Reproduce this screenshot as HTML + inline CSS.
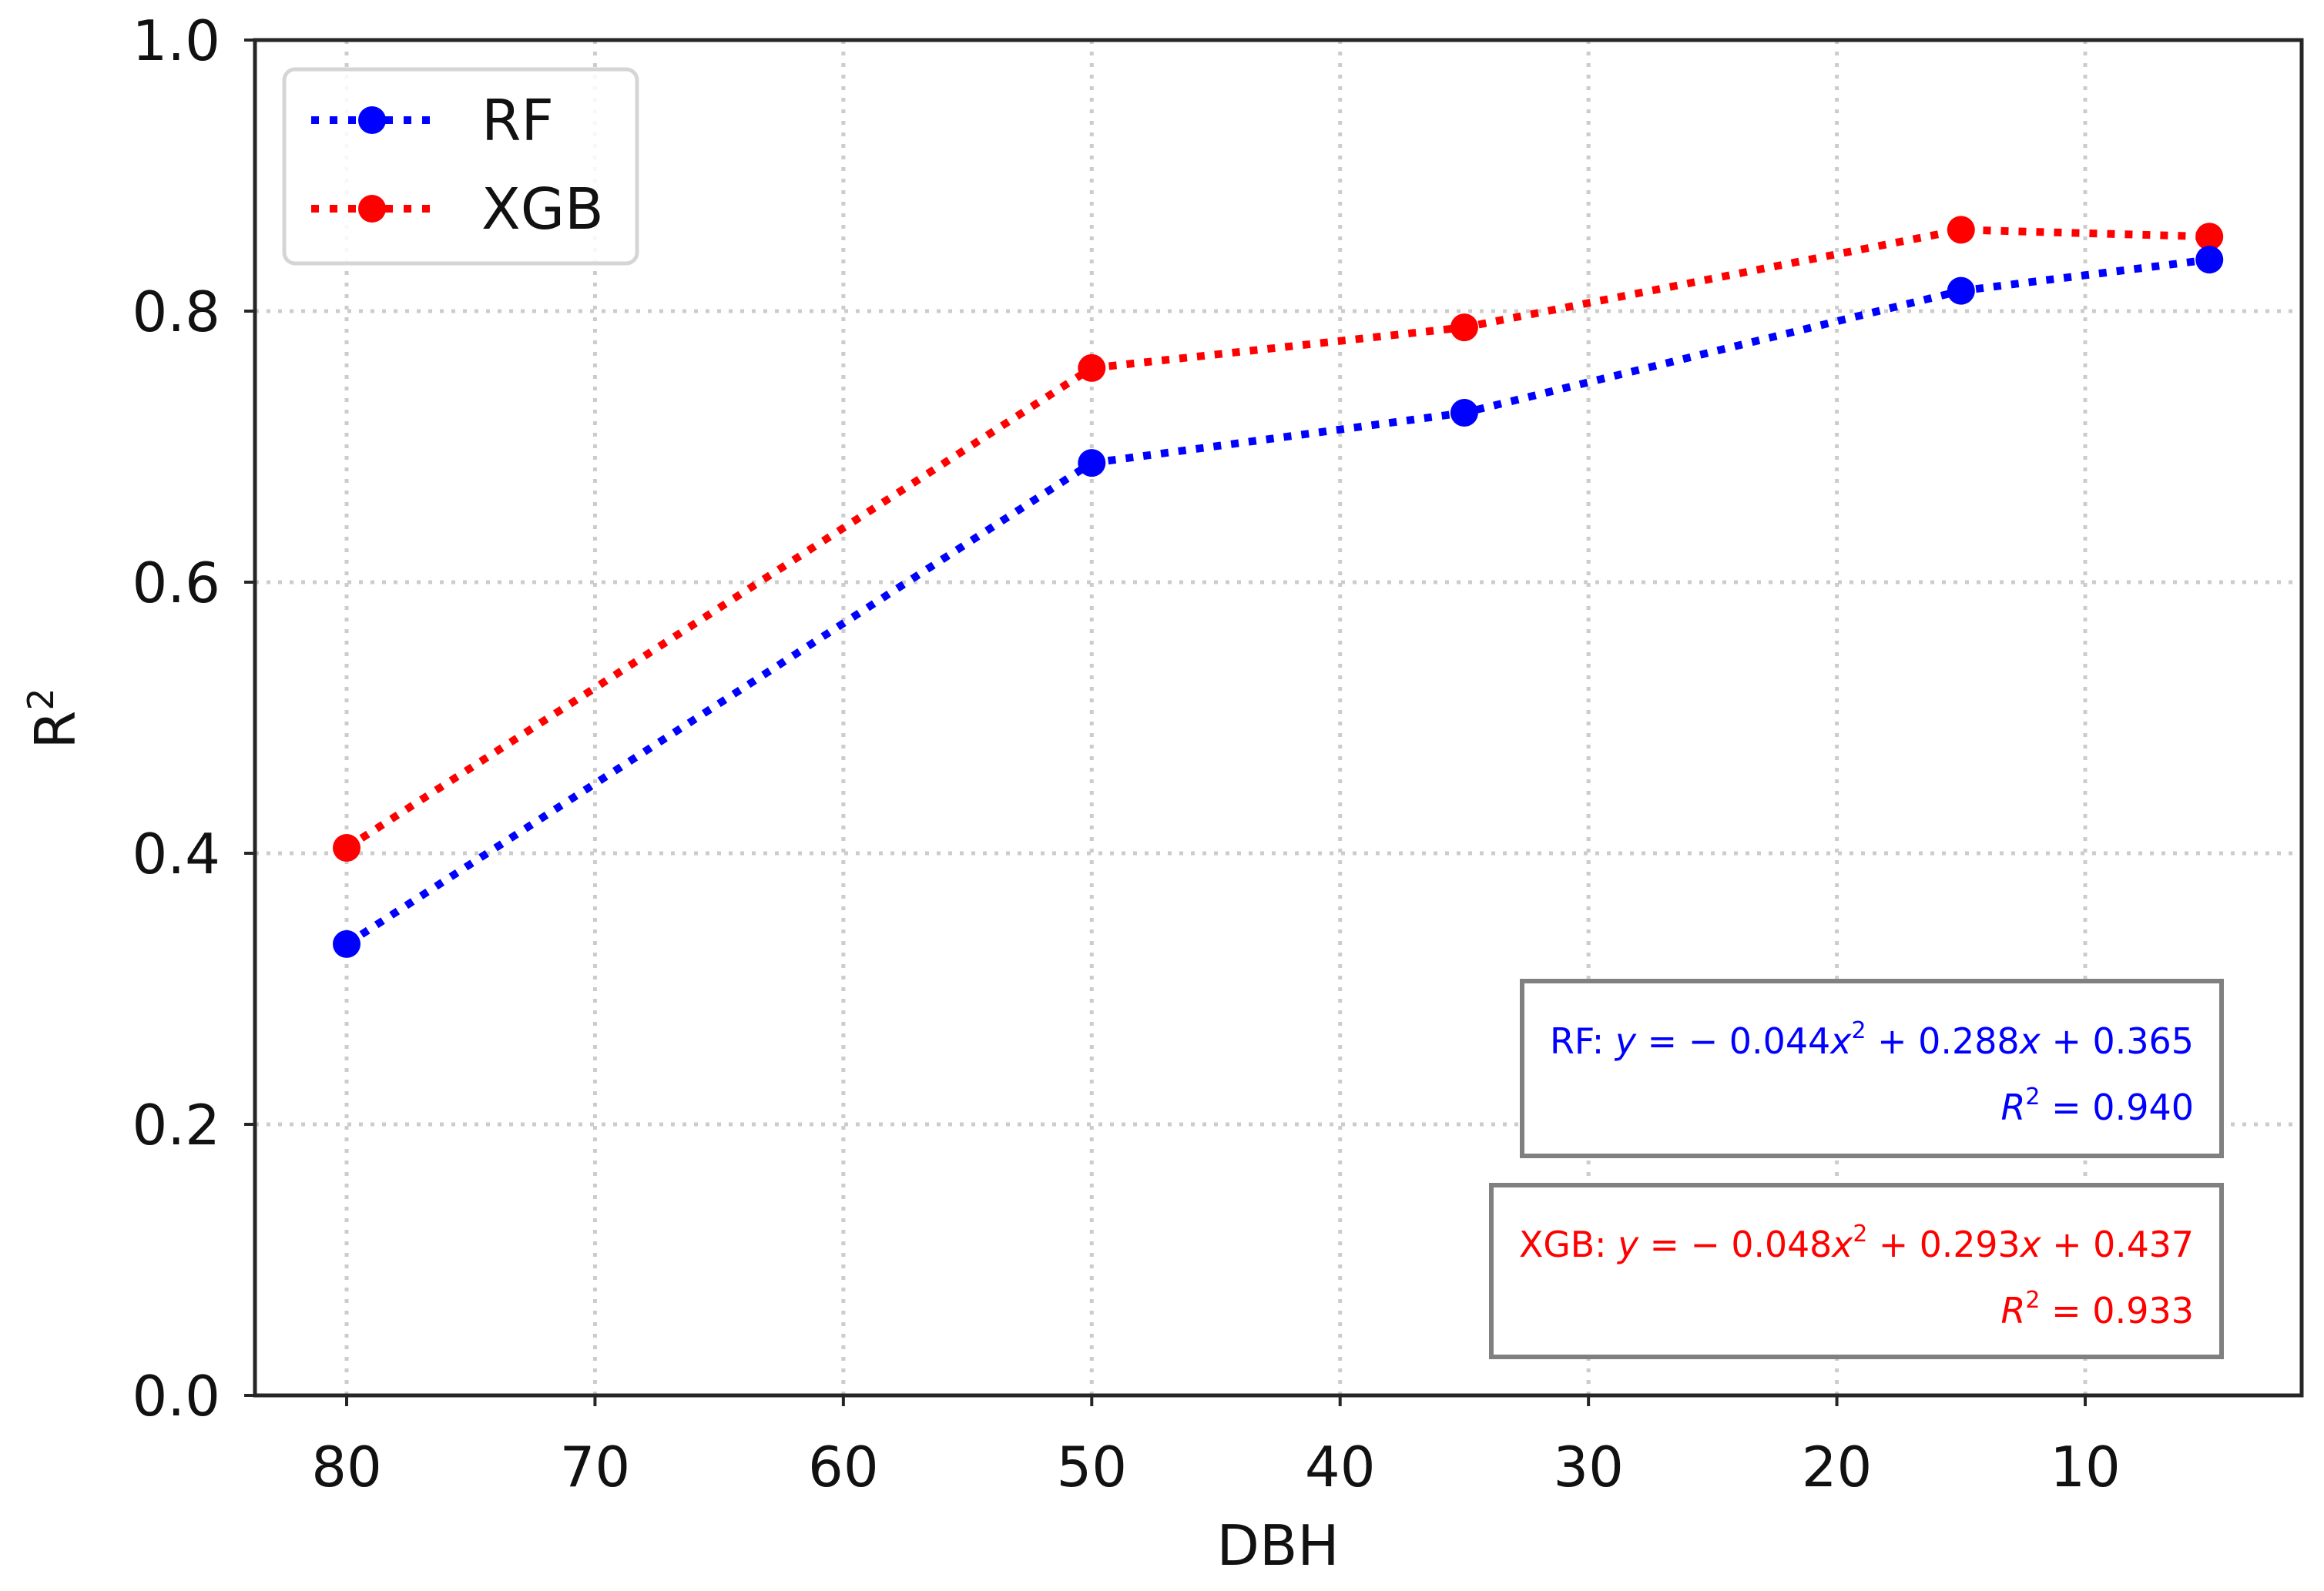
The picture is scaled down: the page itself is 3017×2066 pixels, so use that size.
<!DOCTYPE html>
<html><head><meta charset="utf-8"><style>
html,body{margin:0;padding:0;background:#fff}
svg{display:block;font-family:"DejaVu Sans","Liberation Sans",sans-serif}
</style></head><body>
<svg id="chart" width="3017" height="2066" viewBox="0 0 3017 2066">
<rect x="0" y="0" width="3017" height="2066" fill="#fff"/>
<g id="grid"></g>
<g id="series"></g>
<rect x="331" y="52" width="2657" height="1760" fill="none" stroke="#262626" stroke-width="5"/>
<g id="ticks"></g>
<text x="1659" y="2032" font-size="72" text-anchor="middle" fill="#111">DBH</text>
<text transform="translate(97,933) rotate(-90)" font-size="72" text-anchor="middle" fill="#111">R<tspan font-size="46" dy="-28">2</tspan></text>
<g>
<rect x="369" y="90" width="458" height="252" rx="14" fill="#fff" fill-opacity="0.85" stroke="#d5d5d5" stroke-width="5"/>
<g>
<line x1="404" y1="156" x2="562" y2="156" stroke="#0000ff" stroke-width="10" stroke-dasharray="10,14"/>
<circle cx="483" cy="156" r="18" fill="#0000ff"/>
<text x="625" y="182" font-size="74" fill="#111">RF</text></g>
<g>
<line x1="404" y1="271" x2="562" y2="271" stroke="#ff0000" stroke-width="10" stroke-dasharray="10,14"/>
<circle cx="483" cy="271" r="18" fill="#ff0000"/>
<text x="625" y="297" font-size="74" fill="#111">XGB</text></g>
</g>
<g>
<rect x="1976" y="1274" width="908" height="227" fill="#fff" stroke="#808080" stroke-width="6"/>
<text x="2012" y="1368" font-size="46" textLength="836" lengthAdjust="spacingAndGlyphs" fill="#0000ff">RF: <tspan font-style="italic">y</tspan> = − 0.044<tspan font-style="italic">x</tspan><tspan font-size="30" dy="-20">2</tspan><tspan dy="20"> + 0.288</tspan><tspan font-style="italic">x</tspan> + 0.365</text>
<text x="2848" y="1454" font-size="46" text-anchor="end" fill="#0000ff"><tspan font-style="italic">R</tspan><tspan font-size="30" dy="-20">2</tspan><tspan dy="20"> = 0.940</tspan></text>
</g>
<g>
<rect x="1936" y="1539" width="948" height="223" fill="#fff" stroke="#808080" stroke-width="6"/>
<text x="1972" y="1632" font-size="46" textLength="876" lengthAdjust="spacingAndGlyphs" fill="#ff0000">XGB: <tspan font-style="italic">y</tspan> = − 0.048<tspan font-style="italic">x</tspan><tspan font-size="30" dy="-20">2</tspan><tspan dy="20"> + 0.293</tspan><tspan font-style="italic">x</tspan> + 0.437</text>
<text x="2848" y="1718" font-size="46" text-anchor="end" fill="#ff0000"><tspan font-style="italic">R</tspan><tspan font-size="30" dy="-20">2</tspan><tspan dy="20"> = 0.933</tspan></text>
</g>
</svg>
<script>
const dbh = [80, 50, 35, 15, 5];
const rfValues = [0.333, 0.688, 0.725, 0.815, 0.838];
const xgbValues = [0.404, 0.758, 0.788, 0.860, 0.855];
const xTicks = [80, 70, 60, 50, 40, 30, 20, 10];
const yTicks = [0.0, 0.2, 0.4, 0.6, 0.8, 1.0];

const NS = "http://www.w3.org/2000/svg";
function xScale(v){ return 450 + (80 - v) * (2707 - 450) / 70; }
function yScale(v){ return 1812 - v * (1812 - 52); }
function mk(tag, attrs, parent){ const e = document.createElementNS(NS, tag); for (const k in attrs) e.setAttribute(k, attrs[k]); parent.appendChild(e); return e; }
const grid = document.getElementById('grid'), ticks = document.getElementById('ticks'), series = document.getElementById('series');
xTicks.forEach(t => {
  const x = xScale(t);
  const g = mk('line', {x1:x, y1:52, x2:x, y2:1812, stroke:'#cccccc', 'stroke-width':5, 'stroke-dasharray':'5,10'}, grid);
  
  
  const tk = mk('line', {x1:x, y1:1812, x2:x, y2:1826, stroke:'#262626', 'stroke-width':4}, ticks);
  
  
  const lb = mk('text', {x:x, y:1930, 'font-size':72, 'text-anchor':'middle', fill:'#111'}, ticks);
  lb.textContent = t;
  
  
});
yTicks.forEach(t => {
  const y = yScale(t);
  if (t > 0 && t < 1) {
    const g = mk('line', {x1:331, y1:y, x2:2988, y2:y, stroke:'#cccccc', 'stroke-width':5, 'stroke-dasharray':'5,10'}, grid);
    
    
  }
  const tk = mk('line', {x1:317, y1:y, x2:331, y2:y, stroke:'#262626', 'stroke-width':4}, ticks);
  
  
  const lb = mk('text', {x:286, y:y + 26, 'font-size':72, 'text-anchor':'end', fill:'#111'}, ticks);
  lb.textContent = t.toFixed(1);
  
  
});
function drawSeries(vals, color, name){
  const pts = dbh.map((d, i) => xScale(d) + ',' + yScale(vals[i])).join(' ');
  const pl = mk('polyline', {points:pts, fill:'none', stroke:color, 'stroke-width':10, 'stroke-dasharray':'10,13'}, series);
  
  
  dbh.forEach((d, i) => {
    const c = mk('circle', {cx:xScale(d), cy:yScale(vals[i]), r:18, fill:color}, series);
    
    
  });
}
drawSeries(xgbValues, '#ff0000', 'xgb');
drawSeries(rfValues, '#0000ff', 'rf');
</script>
</body></html>
